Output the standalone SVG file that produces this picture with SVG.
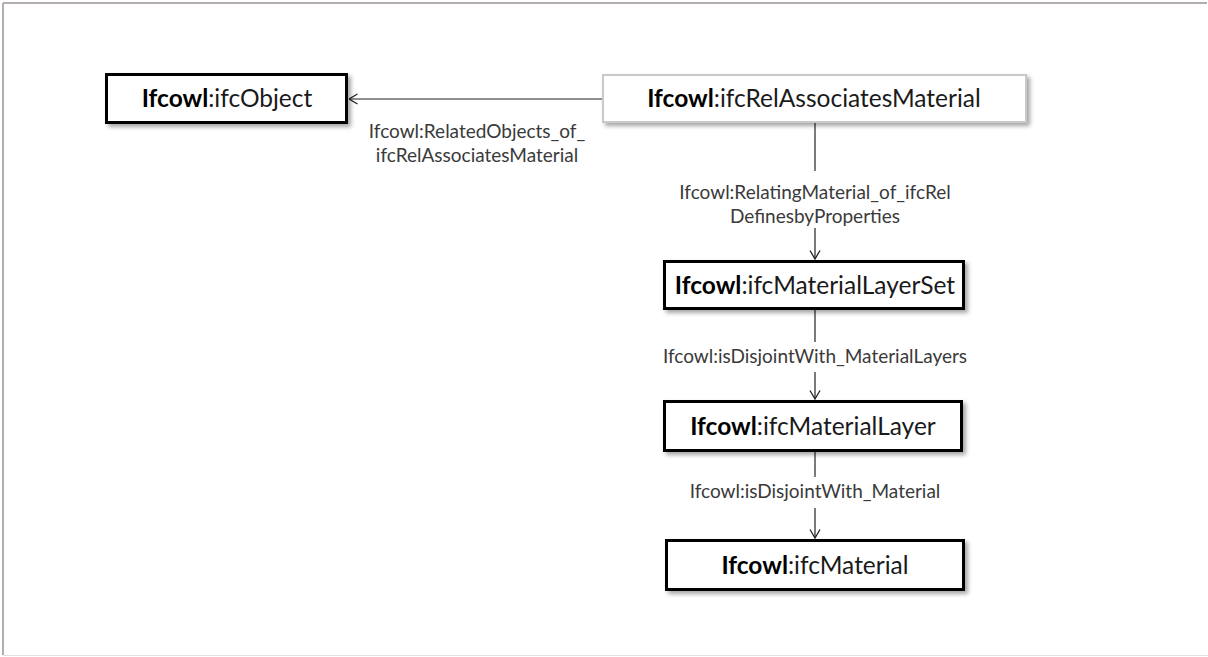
<svg xmlns="http://www.w3.org/2000/svg" width="1208" height="657" viewBox="0 0 1208 657">
  <style>
    .box { fill: #ffffff; stroke: #000000; stroke-width: 3; filter: url(#shadow); }
    .box-light { fill: #ffffff; stroke: #c9c9c9; stroke-width: 2; filter: url(#shadow); }
    .title { font-family: Lato, "Liberation Sans", sans-serif; font-size: 24.5px; fill: #1a1a1a; text-anchor: middle; }
    .title .prefix { font-weight: bold; fill: #000000; }
    .edge { stroke: #222222; stroke-width: 1.2; fill: none; }
    .edge-label { font-family: Lato, "Liberation Sans", sans-serif; font-size: 19px; fill: #3a3a3a; text-anchor: middle; }
  </style>
  <defs>
    <filter id="shadow" x="-10%" y="-20%" width="125%" height="160%">
      <feDropShadow dx="3" dy="3" stdDeviation="2" flood-color="#000000" flood-opacity="0.35"/>
    </filter>
    <marker id="open-arrow" viewBox="0 0 10 12" refX="9.5" refY="6" markerWidth="10" markerHeight="12" markerUnits="userSpaceOnUse" orient="auto">
      <path d="M1,1 L9.5,6 L1,11" fill="none" stroke="#222222" stroke-width="1.3"/>
    </marker>
  </defs>

  <!-- page frame -->
  <rect x="0" y="0" width="1208" height="657" fill="#ffffff"/>
  <line x1="3" y1="3" x2="1207" y2="3" stroke="#b3adad" stroke-width="2"/>
  <line x1="3" y1="3" x2="3" y2="655" stroke="#b3adad" stroke-width="2"/>
  <line x1="3" y1="655.5" x2="1208" y2="655.5" stroke="#e2e2e2" stroke-width="1"/>

  <!-- connectors -->
  <g id="connectors">
    <line class="edge" x1="602" y1="99" x2="349" y2="99" marker-end="url(#open-arrow)"/>
    <text class="edge-label" x="477" y="138">Ifcowl:RelatedObjects_of_</text>
    <text class="edge-label" x="477" y="162">ifcRelAssociatesMaterial</text>

    <line class="edge" x1="815" y1="123" x2="815" y2="171"/>
    <line class="edge" x1="815" y1="228" x2="815" y2="259" marker-end="url(#open-arrow)"/>
    <text class="edge-label" x="815" y="199">Ifcowl:RelatingMaterial_of_ifcRel</text>
    <text class="edge-label" x="815" y="223">DefinesbyProperties</text>

    <line class="edge" x1="815" y1="310" x2="815" y2="342"/>
    <line class="edge" x1="815" y1="372" x2="815" y2="399" marker-end="url(#open-arrow)"/>
    <text class="edge-label" x="815" y="363">Ifcowl:isDisjointWith_MaterialLayers</text>

    <line class="edge" x1="815" y1="452" x2="815" y2="477"/>
    <line class="edge" x1="815" y1="508" x2="815" y2="538" marker-end="url(#open-arrow)"/>
    <text class="edge-label" x="815" y="498">Ifcowl:isDisjointWith_Material</text>
  </g>

  <!-- nodes -->
  <g id="node-ifcObject">
    <rect class="box" x="106.5" y="74.5" width="240" height="48"/>
    <text class="title" x="227" y="107"><tspan class="prefix">Ifcowl</tspan>:ifcObject</text>
  </g>

  <g id="node-ifcRelAssociatesMaterial">
    <rect class="box-light" x="603" y="75" width="423" height="47"/>
    <text class="title" x="814" y="107"><tspan class="prefix">Ifcowl</tspan>:ifcRelAssociatesMaterial</text>
  </g>

  <g id="node-ifcMaterialLayerSet">
    <rect class="box" x="664.5" y="261.5" width="299" height="47"/>
    <text class="title" x="815" y="294"><tspan class="prefix">Ifcowl</tspan>:ifcMaterialLayerSet</text>
  </g>

  <g id="node-ifcMaterialLayer">
    <rect class="box" x="664.5" y="401.5" width="297" height="49"/>
    <text class="title" x="813" y="435"><tspan class="prefix">Ifcowl</tspan>:ifcMaterialLayer</text>
  </g>

  <g id="node-ifcMaterial">
    <rect class="box" x="666.5" y="540.5" width="297" height="49"/>
    <text class="title" x="815" y="574"><tspan class="prefix">Ifcowl</tspan>:ifcMaterial</text>
  </g>
</svg>
